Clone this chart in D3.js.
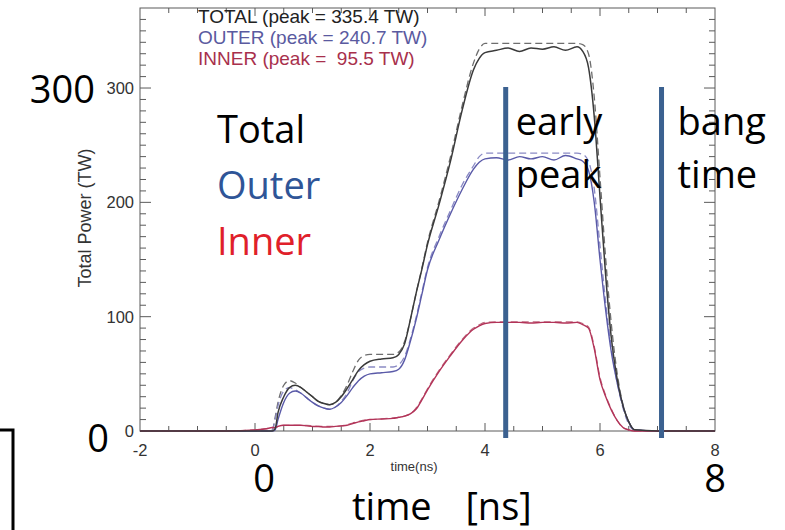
<!DOCTYPE html>
<html><head><meta charset="utf-8">
<script src="https://cdn.jsdelivr.net/npm/d3@7"></script>
<style>html,body{margin:0;padding:0;background:#fff;}svg{display:block;}</style>
</head><body><svg id="c" width="785" height="530"></svg>
<script>
// ---- data ----
const times = [-2,-0.5,0,0.2,0.3,0.35,0.4,0.5,0.6,0.7,0.8,0.9,1.0,1.1,1.2,1.3,1.4,1.5,1.6,1.7,1.8,1.9,2.0,2.2,2.4,2.5,2.6,2.7,2.8,2.9,3.0,3.2,3.4,3.6,3.8,3.9,4.0,4.2,4.4,4.6,4.8,5.0,5.2,5.4,5.6,5.7,5.8,5.9,6.0,6.1,6.2,6.3,6.4,6.5,6.6,7.0,8.0];
const totalSolid = [0,0,0,0,0,2,16,30,38,40,38,34,30,26,24,23,25,30,37,45,53,58,61,63,64,67,76,97,120,141,163,198,236,280,316,326,331,333,335,332,335,334,336,333,336,332,318,275,205,135,80,45,22,8,1,0,0];
const totalDashed = [0,0,0,0,1,12,25,40,44,42,38,34,30,26,24,23,25,31,40,52,62,66,67,67,67,69,78,97,120,142,165,201,240,284,322,334,339,339,339,339,339,339,339,339,339,338,330,292,222,150,92,50,23,8,1,0,0];
const outerSolid = [0,0,0,0,0,1,10,25,33,35,33,29,25,22,20,19,21,25,31,38,44,48,50,51,52,54,62,78,97,119,141,167,190,211,229,235,238,239,237,240,238,240,237,241,238,236,228,200,150,105,68,42,22,8,1,0,0];
const outerDashed = [0,0,0,0,1,10,22,35,38,36,33,29,25,22,20,19,21,26,33,44,52,55,56,56,56,58,65,80,99,121,143,170,193,215,232,240,243,243,243,243,243,243,243,243,243,242,236,212,162,112,72,42,20,6,1,0,0];
const innerSolid = [0,0,1,2,3,3,4,5,5,5,5,4.5,4,4,3.5,3.5,4,4.5,5,6.5,8,9,10,10.5,11,12,13,15,19,27,36,52,66,79,89,92,94,95,95,95,94.5,95,95,94.5,95,93,90,72,45,30,18,9,3,1,0,0,0];
const innerDashed = [0,0,1,2,3,3,4,5,5,5,5,5,4.5,4,4,4,4,4.5,5.5,7,8.5,9.5,10,10.5,11.5,12,13,15,20,28,37,53,67,80,90,93,95,95.5,95.5,95.5,95.5,95.5,95.5,95.5,95.5,94,91,74,47,31,19,9,3,1,0,0,0];
const xTickLabels = [-2,0,2,4,6,8];
const yTickLabels = [0,100,200,300];
const legendLabels = ["TOTAL (peak = 335.4 TW)","OUTER (peak = 240.7 TW)","INNER (peak =  95.5 TW)"];
const markerTimes = [4.36, 7.07];
const markerLabels = [["early","peak"],["bang","time"]];
const seriesWords = ["Total","Outer","Inner"];

// ---- layout ----
const svg = d3.select("#c");
const x = d3.scaleLinear().domain([-2,8]).range([140,715]);
const y = d3.scaleLinear().domain([0,370]).range([431,8]);
const frameCol = "#5a5a5a";

svg.append("rect").attr("x",x(-2)).attr("y",y(370)).attr("width",x(8)-x(-2)).attr("height",y(0)-y(370))
  .attr("fill","none").attr("stroke",frameCol).attr("stroke-width",1);

// x ticks (bottom and top), every 0.5
d3.range(-1.5,8,0.5).forEach(t=>{
  const major = Math.abs(t%2)<1e-9;
  const L = major?8:5;
  svg.append("line").attr("x1",x(t)).attr("x2",x(t)).attr("y1",y(0)).attr("y2",y(0)-L).attr("stroke",frameCol);
  svg.append("line").attr("x1",x(t)).attr("x2",x(t)).attr("y1",y(370)).attr("y2",y(370)+L).attr("stroke",frameCol);
});
// y ticks every 10
d3.range(10,370,10).forEach(v=>{
  const major = v%100===0;
  const L = major?11:6;
  svg.append("line").attr("x1",x(-2)).attr("x2",x(-2)+L).attr("y1",y(v)).attr("y2",y(v)).attr("stroke",frameCol);
  svg.append("line").attr("x1",x(8)).attr("x2",x(8)-L).attr("y1",y(v)).attr("y2",y(v)).attr("stroke",frameCol);
});
// tick labels
const tickFont = "Liberation Sans, Arial, sans-serif";
svg.selectAll(".xl").data(xTickLabels).enter().append("text")
  .attr("x",d=>x(d)).attr("y",456).attr("text-anchor","middle")
  .attr("font-family",tickFont).attr("font-size",16.5).attr("fill","#333").text(d=>d);
svg.selectAll(".yl").data(yTickLabels).enter().append("text")
  .attr("x",134).attr("y",d=>y(d)+6).attr("text-anchor","end")
  .attr("font-family",tickFont).attr("font-size",16.5).attr("fill","#333").text(d=>d);
svg.append("text").attr("x",414).attr("y",471).attr("text-anchor","middle")
  .attr("font-family",tickFont).attr("font-size",13).attr("fill","#333").text("time(ns)");
svg.append("text").attr("transform","translate(91,218) rotate(-90)").attr("text-anchor","middle")
  .attr("font-family",tickFont).attr("font-size",18).attr("fill","#333").text("Total Power (TW)");

// curves
const line = vals => d3.line().x((d,i)=>x(times[i])).y(d=>y(d)).curve(d3.curveMonotoneX)(vals);
const series = [
  {v:totalDashed, c:"#6e6e6e", dash:"7,4", w:1.3},
  {v:outerDashed, c:"#8a8ac4", dash:"7,4", w:1.3},
  {v:innerDashed, c:"#c06a80", dash:"7,4", w:1.2},
  {v:outerSolid, c:"#5a5aa8", dash:null, w:1.4},
  {v:innerSolid, c:"#b23358", dash:null, w:1.4},
  {v:totalSolid, c:"#3a3a3a", dash:null, w:1.5}
];
series.forEach(s=>{
  svg.append("path").attr("d",line(s.v)).attr("fill","none").attr("stroke",s.c)
    .attr("stroke-width",s.w).attr("stroke-dasharray",s.dash);
});

// legend
const legCols = ["#222","#5a5aa0","#a8304c"];
legendLabels.forEach((t,i)=>{
  svg.append("text").attr("x",198).attr("y",23+i*21).attr("font-family",tickFont)
    .attr("font-size",19).attr("fill",legCols[i]).style("white-space","pre").text(t);
});

// marker bars
const barCol = "#3b6190";
markerTimes.forEach(t=>{
  svg.append("rect").attr("x",x(t)-2.5).attr("y",87).attr("width",5).attr("height",438-87).attr("fill",barCol);
});

// overlay annotations
const big = "Open Sans, Noto Sans, sans-serif";
const fs = 38;
const labOffsets = [10,16];
markerLabels.forEach((lab,i)=>{
  lab.forEach((w,j)=>{
    svg.append("text").attr("x",x(markerTimes[i])+labOffsets[i]).attr("y",135+j*53).attr("font-family",big)
      .attr("font-size",fs).attr("fill","#000").text(w);
  });
});
const wordCols = ["#000","#2f5597","#e0202a"];
seriesWords.forEach((w,i)=>{
  svg.append("text").attr("x",217).attr("y",143+i*56).attr("font-family",big).attr("font-size",fs)
    .attr("fill",wordCols[i]).text(w);
});
svg.append("text").attr("x",95).attr("y",103).attr("text-anchor","end").attr("font-family",big).attr("font-size",fs).text("300");
svg.append("text").attr("x",98).attr("y",452).attr("text-anchor","middle").attr("font-family",big).attr("font-size",fs).text("0");
svg.append("text").attr("x",x(0)+9).attr("y",492).attr("text-anchor","middle").attr("font-family",big).attr("font-size",fs).text("0");
svg.append("text").attr("x",x(8)).attr("y",492).attr("text-anchor","middle").attr("font-family",big).attr("font-size",fs).text("8");
svg.append("text").attr("x",352).attr("y",520).attr("font-family",big).attr("font-size",fs)
  .style("white-space","pre").style("word-spacing","7px").text("time  [ns]");

// corner bracket bottom-left
svg.append("path").attr("d","M0,430H13V530").attr("fill","none").attr("stroke","#000").attr("stroke-width",3);
</script></body></html>
